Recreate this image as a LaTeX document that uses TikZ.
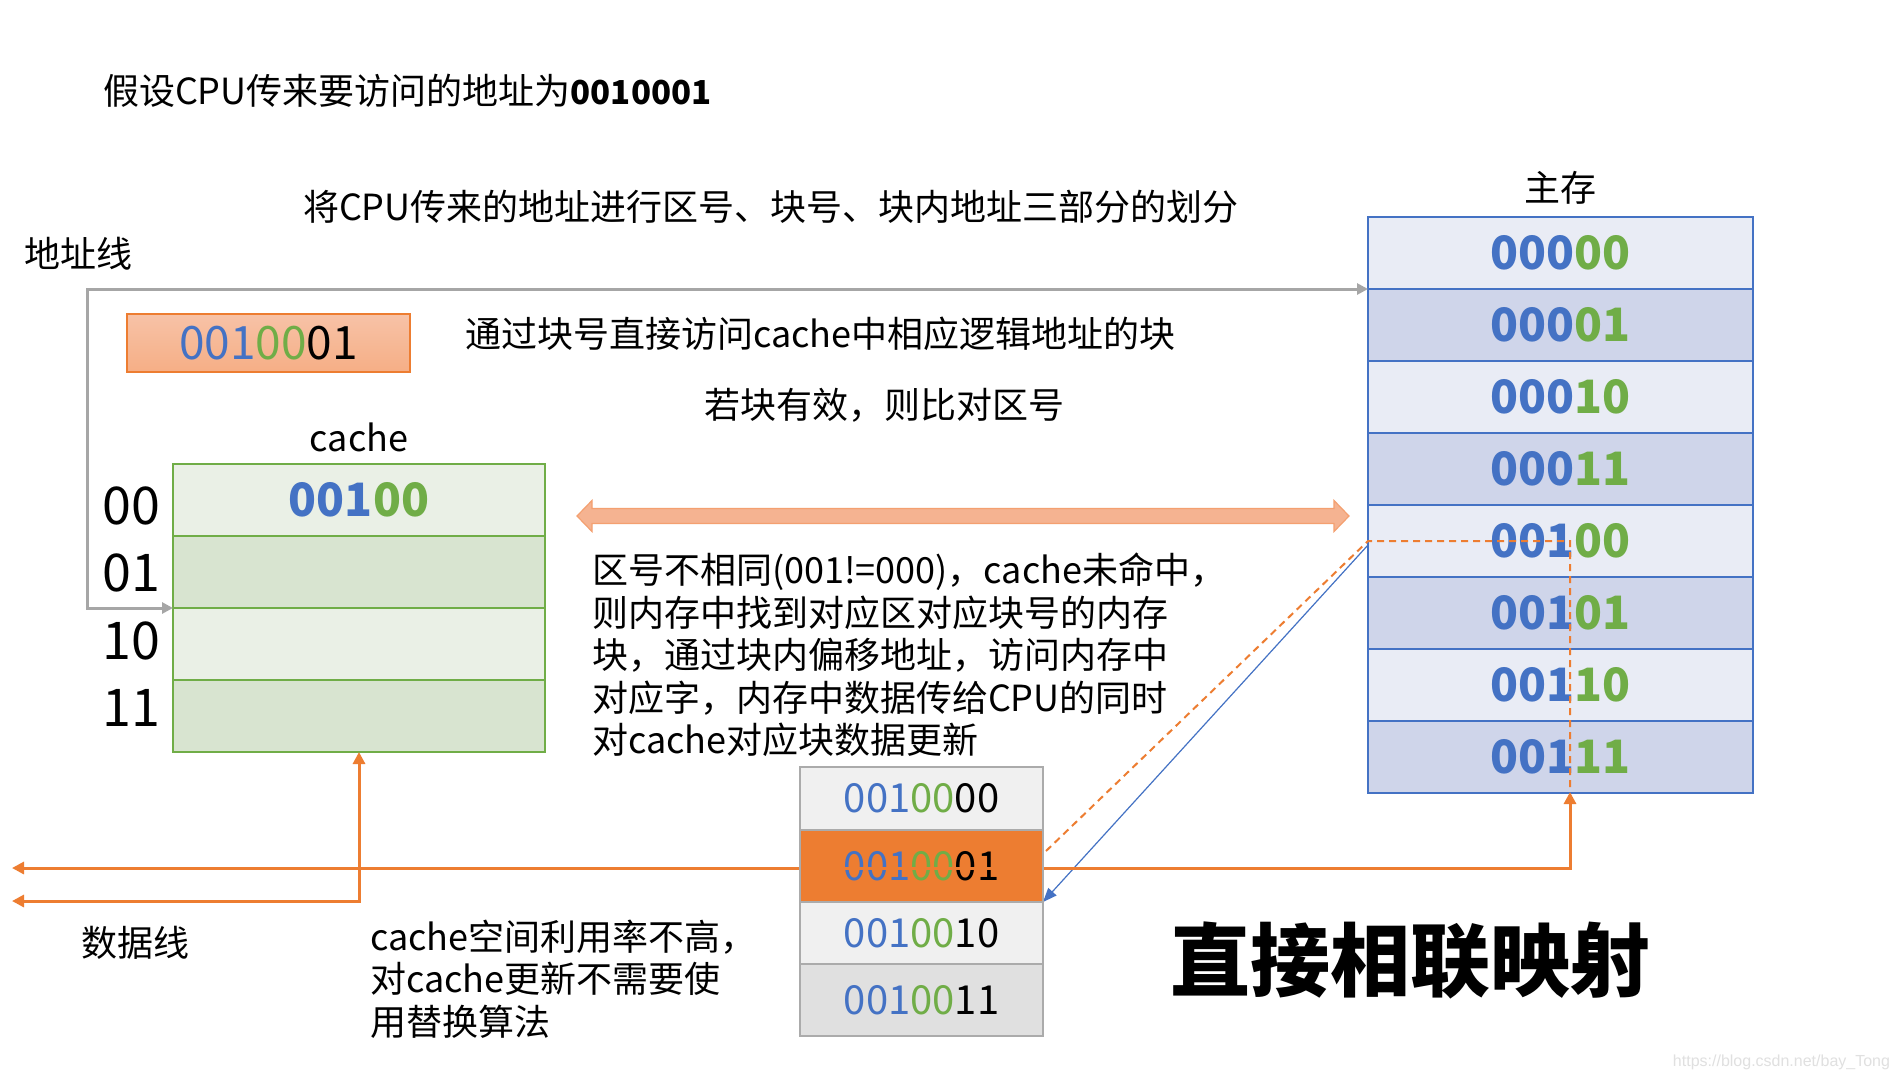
\documentclass[tikz,border=0pt]{standalone}
\usepackage{fontspec}
\setmainfont{Noto Sans CJK SC}
\newfontfamily\wmfont{Liberation Sans}
\usetikzlibrary{arrows.meta}
\definecolor{blueT}{HTML}{4472C4}
\definecolor{greenT}{HTML}{70AD47}
\definecolor{orangeT}{HTML}{ED7D31}
\definecolor{memA}{HTML}{E9ECF5}
\definecolor{memB}{HTML}{CFD5EA}
\definecolor{cacA}{HTML}{EAF0E6}
\definecolor{cacB}{HTML}{D8E4D0}
\definecolor{blkA}{HTML}{F0F0F0}
\definecolor{blkB}{HTML}{E0E0E0}
\definecolor{blkBorder}{HTML}{ABABAB}
\definecolor{grayL}{HTML}{A6A6A6}
\definecolor{salmon}{HTML}{F5B391}
\definecolor{salmonB}{HTML}{F4A070}
\newcommand\bits[3]{{\color{blueT}#1}{\color{greenT}#2}#3}
\tikzset{
  txt/.style={font=\fontsize{36}{42.5}\selectfont, anchor=west, align=left},
  memrow/.style={draw=blueT, line width=2.5pt, minimum width=385pt, minimum height=72pt,
    font=\fontsize{46}{50}\selectfont\bfseries},
  cacrow/.style={draw=greenT, line width=2.5pt, minimum width=372pt, minimum height=72pt,
    font=\fontsize{46}{50}\selectfont\bfseries},
  blkrow/.style={minimum width=243pt, font=\fontsize{40}{44}\selectfont},
  rowlab/.style={font=\fontsize{52}{56}\selectfont},
  grayline/.style={draw=grayL, line width=3pt, arrows={Triangle[length=11pt,width=11pt]-Triangle[length=11pt,width=11pt]}},
  orangeline/.style={draw=orangeT, line width=3pt, arrows={Triangle[length=12pt,width=12pt]-Triangle[length=12pt,width=12pt]}},
  dashline/.style={draw=orangeT, line width=2pt, dash pattern=on 7pt off 5pt},
  blueline/.style={draw=blueT, line width=1.2pt, arrows={-Triangle[length=14pt,width=11pt]}}
}
\begin{document}
\begin{tikzpicture}[x=1pt,y=-1pt, every node/.style={inner sep=0pt, outer sep=0pt}]
\useasboundingbox[fill=white] (0,0) rectangle (1900,1080);

% texts
\node[txt] (t1) at (103,91) {假设CPU传来要访问的地址为{\fontsize{33}{40}\selectfont\bfseries 0010001}};
\node[txt] (t2) at (303,207) {将CPU传来的地址进行区号、块号、块内地址三部分的划分};
\node[txt] (addrlab) at (24,254) {地址线};
\node[txt, anchor=center] (mainlab) at (1560,188) {主存};
\node[txt] (t3) at (465,334) {通过块号直接访问cache中相应逻辑地址的块};
\node[txt] (t4) at (704,405) {若块有效，则比对区号};
\node[txt, anchor=center] (caclab) at (359,437) {cache};
\node[txt] (para) at (592,655) {区号不相同(001!=000)，cache未命中，\\则内存中找到对应区对应块号的内存\\块，通过块内偏移地址，访问内存中\\对应字，内存中数据传给CPU的同时\\对cache对应块数据更新};
\node[txt] (note) at (370,979) {cache空间利用率不高，\\对cache更新不需要使\\用替换算法};
\node[txt] (datalab) at (81,943) {数据线};
\node[anchor=west, font=\fontsize{80}{84}\selectfont\bfseries] (big) at (1170,960) {直接相联映射};
\node[anchor=east, font=\wmfont\fontsize{16}{18}\selectfont, text=black!12] (wm) at (1890,1062) {https://blog.csdn.net/bay\_Tong};

% address box
\node[draw=orangeT, line width=1.5pt, top color=salmon!80!white, bottom color=salmonB!85!white,
  minimum width=283pt, minimum height=58pt, font=\fontsize{46}{50}\selectfont] (addr) at (268.5,343) {\bits{001}{00}{01}};

% main memory
\foreach \i/\a/\b/\f in {0/000/00/memA,1/000/01/memB,2/000/10/memA,3/000/11/memB,4/001/00/memA,5/001/01/memB,6/001/10/memA,7/001/11/memB}
  \node[memrow, fill=\f] (m\i) at (1560.5,253+72*\i) {\bits{\a}{\b}{}};

% cache
\node[cacrow, fill=cacA] (c0) at (359,500) {\bits{001}{00}{}};
\node[cacrow, fill=cacB] (c1) at (359,572) {};
\node[cacrow, fill=cacA] (c2) at (359,644) {};
\node[cacrow, fill=cacB] (c3) at (359,716) {};
\node[rowlab] (l0) at (131,506) {00};
\node[rowlab] (l1) at (131,573) {01};
\node[rowlab] (l2) at (131,641) {10};
\node[rowlab] (l3) at (131,708) {11};

% double arrow
\draw[fill=salmon, draw=salmonB, line width=1.2pt] (577,516) -- (592,500.5) -- (592,508.5) -- (1334,508.5) -- (1334,500.5) -- (1349,516) -- (1334,531.5) -- (1334,523.5) -- (592,523.5) -- (592,531.5) -- cycle;

% block box
\node[blkrow, fill=blkA, minimum height=63pt] (b0) at (921.5,798.5) {\bits{001}{00}{00}};
\node[blkrow, fill=orangeT, minimum height=72pt] (b1) at (921.5,866) {\bits{001}{00}{01}};
\node[blkrow, fill=blkA, minimum height=62pt] (b2) at (921.5,933) {\bits{001}{00}{10}};
\node[blkrow, fill=blkB, minimum height=72pt] (b3) at (921.5,1000) {\bits{001}{00}{11}};

% address line
\draw[grayline] (c1.south west) -- ++(-86,0) |- (m0.south west);

% data lines
\coordinate (d1) at (12,868);
\coordinate (mb) at (1570,792);
\coordinate (d2) at (12,901);
\coordinate (dstart) at (1046,851);
\draw[dashline] (dstart) -- (m4.west) -- ++(202,0) -- (mb);
\draw[blueline] ([yshift=-4pt]m4.west) -- (b1.south east);
\draw[orangeline] (d1) -| (mb);
\draw[orangeline] (d2) -| (c3.south);

% block box borders
\draw[blkBorder, line width=2.5pt] (b0.north west) rectangle (b3.south east);
\foreach \k in {0,1,2} \draw[blkBorder, line width=2pt] (b\k.south west) -- (b\k.south east);
\end{tikzpicture}
\end{document}
